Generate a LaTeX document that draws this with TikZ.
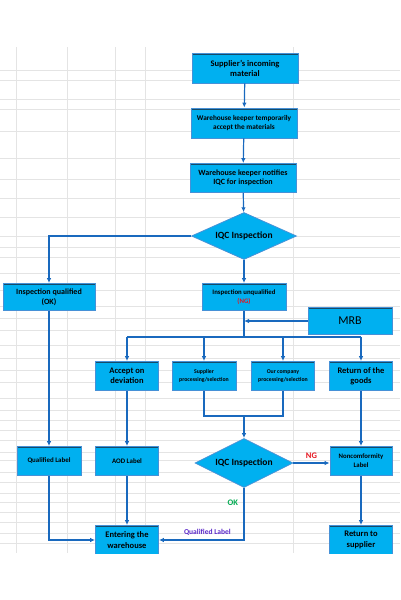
\documentclass[tikz,border=0pt]{standalone}
\usepackage{fontspec}
\setmainfont{Carlito}
\usepackage{xcolor}
\usepackage{tikz}
\usetikzlibrary{arrows.meta, shapes.geometric, calc}
\definecolor{boxcyan}{RGB}{0,176,240}
\definecolor{boxedge}{RGB}{70,145,215}
\definecolor{boxtop}{RGB}{20,75,105}
\definecolor{flowblue}{RGB}{25,105,190}
\definecolor{gridgray}{RGB}{228,228,228}
\definecolor{okgreen}{RGB}{0,170,80}
\definecolor{lblpurple}{RGB}{90,40,200}
\definecolor{ngred}{RGB}{230,20,30}

\tikzset{
  procbox/.style={rectangle, fill=boxcyan, draw=boxedge, line width=0.8pt,
    align=center, inner sep=1pt, text=black,
    path picture={\draw[boxtop, line width=1.4pt]
      ([yshift=-1.2pt]path picture bounding box.north west) --
      ([yshift=-1.2pt]path picture bounding box.north east);}},
  decision/.style={diamond, fill=boxcyan, draw=boxedge, line width=0.8pt,
    inner sep=0pt, text=black, font=\fontsize{9.5}{11}\selectfont\bfseries},
  flow/.style={flowblue, line width=1.2pt},
  arr/.style={flow, -{Latex[length=5pt,width=4.5pt]}},
}

\begin{document}
\begin{tikzpicture}[x=1pt, y=-1pt]
  \useasboundingbox (0,0) rectangle (400,600);
  \begin{scope}
    \clip (0,0) rectangle (400,553);
    % spreadsheet grid behind the chart
    \foreach \gy in {70,80,99,109,131,158,179,198,217,236,247,257,273,290,306,318,330,345,358,370,382,398,410,420,430,440,452,460,472,482,493,502,512,522,533,543}
      \draw[gridgray, line width=0.8pt] (0,\gy) -- (400,\gy);
    \foreach \gx in {16,67,115,145,293}
      \draw[gridgray, line width=0.8pt] (\gx,47) -- (\gx,553);

    % main column
    \node[procbox, minimum width=106pt, minimum height=30pt, font=\fontsize{8.5}{10}\selectfont\bfseries] (supp) at (245,68) {Supplier’s incoming\\material};
    \node[procbox, minimum width=106pt, minimum height=30pt, font=\fontsize{7.3}{9.3}\selectfont\bfseries] (keep) at (244,123) {Warehouse keeper temporarily\\accept the materials};
    \node[procbox, minimum width=106pt, minimum height=29pt, font=\fontsize{8}{9.6}\selectfont\bfseries] (notify) at (243,178) {Warehouse keeper notifies\\IQC for inspection};
    \node[decision, minimum width=105pt, minimum height=47pt, aspect=2.2] (iqc) at (244,236) {IQC Inspection};

    \node[procbox, minimum width=92pt, minimum height=27pt, font=\fontsize{8}{10}\selectfont\bfseries] (okq) at (49,297) {Inspection qualified\\(OK)};
    \node[procbox, minimum width=84pt, minimum height=27pt, font=\fontsize{6.8}{9.5}\selectfont\bfseries] (ngq) at (244,297) {Inspection unqualified\\\textcolor{ngred}{(NG)}};
    \node[procbox, minimum width=84pt, minimum height=27pt, font=\fontsize{12}{14}\selectfont] (mrb) at (350,321) {MRB};

    % disposal row
    \node[procbox, minimum width=63pt, minimum height=29pt, font=\fontsize{8.5}{10.5}\selectfont\bfseries] (acc) at (127,376) {Accept on\\deviation};
    \node[procbox, minimum width=64pt, minimum height=29pt, font=\fontsize{5.8}{8}\selectfont\bfseries] (sup) at (204,376) {Supplier\\processing/selection};
    \node[procbox, minimum width=63pt, minimum height=29pt, font=\fontsize{5.8}{8}\selectfont\bfseries] (our) at (283,376) {Our company\\processing/selection};
    \node[procbox, minimum width=63pt, minimum height=29pt, font=\fontsize{8.5}{10.5}\selectfont\bfseries] (ret) at (361,376) {Return of the\\goods};

    % labels row
    \node[procbox, minimum width=64pt, minimum height=29pt, font=\fontsize{6.9}{8}\selectfont\bfseries] (qlab) at (49,461) {Qualified Label};
    \node[procbox, minimum width=63pt, minimum height=29pt, font=\fontsize{6.9}{8}\selectfont\bfseries] (aod) at (127,461) {AOD Label};
    \node[decision, minimum width=98pt, minimum height=49pt, aspect=2] (iqc2) at (244,463) {IQC Inspection};
    \node[procbox, minimum width=62pt, minimum height=29pt, font=\fontsize{6.8}{9.2}\selectfont\bfseries] (ncl) at (361,461) {Noncomformity\\Label};

    \node[procbox, minimum width=63pt, minimum height=29pt, font=\fontsize{8.5}{10.5}\selectfont\bfseries] (ent) at (127,540) {Entering the\\warehouse};
    \node[procbox, minimum width=63pt, minimum height=29pt, font=\fontsize{8.5}{10.5}\selectfont\bfseries] (rts) at (361,540) {Return to\\supplier};

    % connectors
    \draw[arr] (supp) -- (keep);
    \draw[arr] (keep) -- (notify);
    \draw[arr] (notify) -- (iqc);
    \draw[arr] (iqc.west) -| (okq.north);
    \draw[arr] (iqc) -- (ngq);

    \coordinate (bus) at (244,337);
    \draw[flow] (ngq) -- (bus);
    \draw[arr] (mrb.west) -- (mrb.west -| ngq.south);
    \draw[flow] (acc.north |- bus) -- (ret.north |- bus);
    \foreach \n in {acc,sup,our,ret}
      \draw[arr] (\n.north |- bus) -- (\n.north);

    \coordinate (merge) at (244,416);
    \draw[flow] (sup.south) |- (merge) -| (our.south);
    \draw[arr] (merge) -- (iqc2.north);

    \draw[arr] (okq) -- (qlab);
    \draw[arr] (acc) -- (aod);
    \draw[arr] (ret) -- (ncl);
    \draw[arr] (iqc2.east) -- node[above=1pt, text=ngred, font=\fontsize{8.5}{10}\selectfont\bfseries] {NG} (iqc2.east -| ncl.west);
    \draw[arr] (ncl) -- (rts);
    \draw[arr] (aod) -- (ent);
    \draw[arr] (qlab.south) |- (ent.west);
    \draw[arr] (iqc2.south) |- node[pos=0.14, left=2pt, text=okgreen, font=\fontsize{8.5}{10}\selectfont\bfseries] {OK}
      node[pos=0.715, above=1pt, text=lblpurple, font=\fontsize{7.5}{9}\selectfont\bfseries] {Qualified Label} (ent.east);
  \end{scope}
\end{tikzpicture}
\end{document}
